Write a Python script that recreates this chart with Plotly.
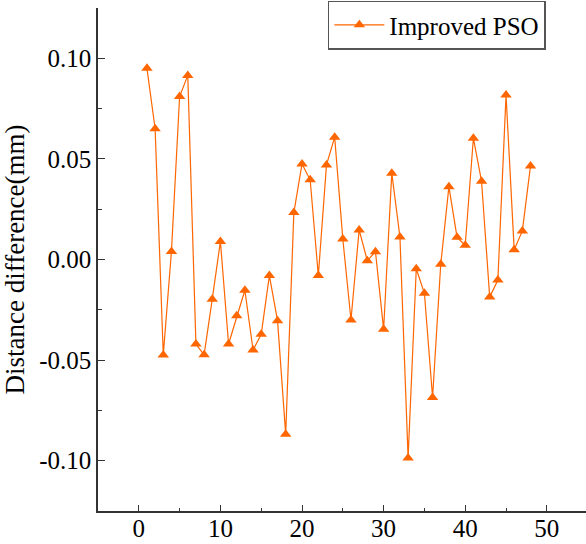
import plotly.graph_objects as go

x_vals = list(range(1, 49))
y_vals = [0.095, 0.065, -0.0475, 0.004, 0.081, 0.0915, -0.042, -0.0474, -0.0197, 0.009,
          -0.042, -0.028, -0.0153, -0.045, -0.0372, -0.008, -0.0304, -0.0868, 0.0233, 0.0475,
          0.0396, -0.008, 0.047, 0.0608, 0.0102, -0.0301, 0.0147, -0.0006, 0.0039, -0.0347,
          0.0429, 0.0112, -0.0986, -0.0046, -0.0168, -0.0686, -0.0024, 0.0362, 0.011, 0.0071,
          0.0603, 0.0389, -0.0187, -0.0102, 0.0817, 0.0049, 0.0142, 0.0465]
series_name = "Improved PSO"
y_tickvals = [0.10, 0.05, 0.00, -0.05, -0.10]
y_ticktext = ["0.10", "0.05", "0.00", "-0.05", "-0.10"]
x_tickvals = [0, 10, 20, 30, 40, 50]

color = "#FF6600"
font_family = "Liberation Serif"

fig = go.Figure()
fig.add_trace(go.Scatter(
    x=x_vals, y=y_vals, mode="lines+markers", name=series_name,
    line=dict(color=color, width=1.2),
    marker=dict(symbol="triangle-up", size=10, color=color),
))

fig.update_layout(
    width=586, height=544,
    margin=dict(l=98, r=0, t=8, b=33, autoexpand=False),
    plot_bgcolor="white", paper_bgcolor="white",
    font=dict(family=font_family, size=25, color="black"),
    showlegend=True,
    legend=dict(x=0.471, y=0.966, xanchor="left", yanchor="middle",
                bordercolor="#555555", borderwidth=1.5, bgcolor="white",
                font=dict(family=font_family, size=25), itemwidth=50,
                tracegroupgap=0),
    xaxis=dict(range=[-5, 54.8], tickvals=x_tickvals, ticks="inside", ticklen=6,
               tickwidth=1.2, tickcolor="#333333", automargin=False,
               ticklabelstandoff=-6,
               minor=dict(dtick=5, tick0=0, ticks="inside", ticklen=3, tickcolor="#333333"),
               showline=True, linecolor="#333333", linewidth=1.5, showgrid=False,
               zeroline=False, tickfont=dict(size=25)),
    yaxis=dict(range=[-0.125, 0.125], tickvals=y_tickvals, ticktext=y_ticktext,
               ticks="inside", ticklen=7, tickwidth=1.2, tickcolor="#333333", automargin=False,
               minor=dict(dtick=0.025, tick0=0, ticks="inside", ticklen=4, tickcolor="#333333"),
               showline=True, linecolor="#333333", linewidth=1.5, showgrid=False,
               zeroline=False, tickfont=dict(size=25),
               title=dict(text="Distance difference(mm)", font=dict(size=27), standoff=10)),
)

fig.write_html("out.html", config={"displayModeBar": False},
               post_script="document.body.style.margin='0';document.body.style.padding='0';")
